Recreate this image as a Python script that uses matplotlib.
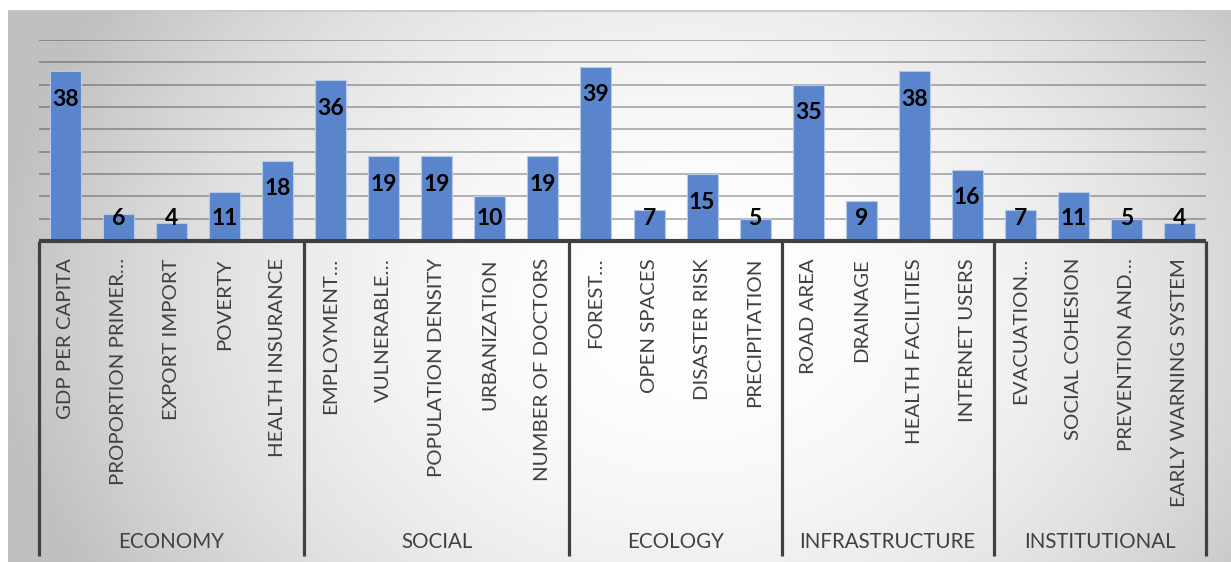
import numpy as np
import matplotlib
matplotlib.use("Agg")
import matplotlib.pyplot as plt

# ---- data ----
groups = ["ECONOMY", "SOCIAL", "ECOLOGY", "INFRASTRUCTURE", "INSTITUTIONAL"]
group_sizes = [5, 5, 4, 4, 4]
categories = [
    "GDP PER CAPITA", "PROPORTION PRIMER…", "EXPORT IMPORT", "POVERTY", "HEALTH INSURANCE",
    "EMPLOYMENT…", "VULNERABLE…", "POPULATION DENSITY", "URBANIZATION", "NUMBER OF DOCTORS",
    "FOREST…", "OPEN SPACES", "DISASTER RISK", "PRECIPITATION",
    "ROAD AREA", "DRAINAGE", "HEALTH FACILITIES", "INTERNET USERS",
    "EVACUATION…", "SOCIAL COHESION", "PREVENTION AND…", "EARLY WARNING SYSTEM",
]
values = [38, 6, 4, 11, 18,
          36, 19, 19, 10, 19,
          39, 7, 15, 5,
          35, 9, 38, 16,
          7, 11, 5, 4]

FONT = "Lato"
W, H = 1231, 562
fig = plt.figure(figsize=(W / 100, H / 100), dpi=100)

# ---- background panel with radial gradient ----
bg = fig.add_axes([8 / W, 0, (W - 8) / W, (H - 10) / H])
bg.set_axis_off()
nx, ny = 400, 200
xs = np.linspace(8, W, nx)
ys = np.linspace(10, H, ny)
X, Y = np.meshgrid(xs, ys)
cx, cy, rx, ry = 690, 300, 650, 520
t2 = ((X - cx) / rx) ** 2 + ((Y - cy) / ry) ** 2
val = np.clip(255 - 55 * t2, 192, 255) / 255.0
img = np.dstack([val, val, val])
bg.imshow(img, aspect="auto", extent=[0, 1, 0, 1], origin="upper")
bg.set_xlim(0, 1)
bg.set_ylim(0, 1)
bg.plot([0, 1], [0.998, 0.998], color="#c8c8c8", lw=1.2, transform=bg.transAxes)

# ---- main axes ----
left, right = 39, 1206
base_y, top_y = 241, 40
ax = fig.add_axes([left / W, (H - base_y) / H, (right - left) / W, (base_y - top_y) / H])
ax.patch.set_alpha(0)
n = len(values)
x = np.arange(n)
ax.set_xlim(-0.5, n - 0.5)
ax.set_ylim(0, 45)
for gy in range(5, 46, 5):
    ax.axhline(gy, color="black", alpha=0.3, lw=1.3, zorder=1)
ax.bar(x, values, width=0.585, color="#5A85CC", edgecolor="#b7c9ea", linewidth=0.8, zorder=2)
for xi, v in zip(x, values):
    yl = max(v - 6.3, 5)
    ax.text(xi, yl, str(v), ha="center", va="center", fontsize=16.5, fontweight="bold",
            family=FONT, color="black", zorder=3)
for s in ax.spines.values():
    s.set_visible(False)
ax.set_xticks([])
ax.set_yticks([])

# ---- category axis (multi-level) ----
ax2 = fig.add_axes([left / W, 0, (right - left) / W, (H - base_y) / H])
ax2.set_axis_off()
ax2.set_xlim(-0.5, n - 0.5)
ax2.set_ylim(H, base_y)  # pixel coordinates (top = baseline)
ax2.plot([-0.5, n - 0.5], [base_y, base_y], color="#404040", lw=3, solid_capstyle="butt",
         clip_on=False)
bounds = np.concatenate([[0], np.cumsum(group_sizes)]) - 0.5
for b in bounds:
    ax2.plot([b, b], [base_y, 556], color="#404040", lw=2.3, solid_capstyle="butt", clip_on=False)
for xi, lab in zip(x, categories):
    ax2.text(xi, 258, lab, rotation=90, ha="center", va="top", fontsize=14.7,
             family=FONT, color="#404040")
for i, g in enumerate(groups):
    cxg = (bounds[i] + bounds[i + 1]) / 2
    ax2.text(cxg, 542, g, ha="center", va="center", fontsize=14.8, family=FONT, color="#404040")

fig.savefig("out.png", dpi=100)
